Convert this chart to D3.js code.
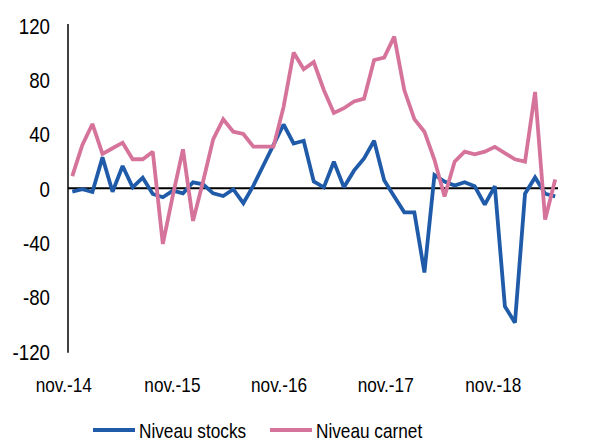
<!DOCTYPE html>
<html><head><meta charset="utf-8">
<script src="https://cdn.jsdelivr.net/npm/d3@7"></script>
<style>
body{margin:0;background:#fff;}
text{font-family:"Liberation Sans",Arial,sans-serif;fill:#000;}
</style></head>
<body><svg id="c" width="590" height="443"></svg>
<script>
// monthly index 0 = nov.-14 ... 48 = nov.-18
const stocks = [-2.5,-0.7,-2.7,22.8,-2.5,16.4,0.7,7.8,-4.2,-6.6,-1.7,-3.7,4.4,2.9,-3.7,-5.7,-0.7,-11,2,17,32,47,33,35,5,0.7,19.6,0.7,13,22,35,6,-6,-17.7,-17.7,-62,9.8,5,2,4.5,1.5,-12,1.5,-87,-99,-4,8,-4,-6];
const carnet = [9,32,47.4,25.3,29.5,33.6,21.4,21.4,27,-41,-5,28.7,-24,5,36,50.8,41.7,40,30.7,30.7,30.7,60,100,87.7,93,72.4,55.5,59,64,66,94.5,96.3,111.7,72.4,51,41.7,21,-6,19.6,27,25,27,30.5,26,21.4,19.6,71,-23,6.5];
const yTicks = [-120,-80,-40,0,40,80,120];
const xTickLabels = ["nov.-14","nov.-15","nov.-16","nov.-17","nov.-18"];
const xTickIdx = [-0.9,9.9,20.5,31.1,41.8];
const seriesNames = ["Niveau stocks","Niveau carnet"];
const colors = ["#1F5BA8","#D5739B"];

const SX = 0.82, SY = 0.85; // narrow font emulation
const svg = d3.select("#c");
const x = d3.scaleLinear().domain([0,48]).range([72.3,555.2]);
const y = d3.scaleLinear().domain([-120,120]).range([351.2,25.4]);

// y axis
const ya = svg.append("g").attr("transform","translate(68,0)")
  .call(d3.axisLeft(y).tickValues(yTicks).tickSize(0).tickFormat(d=>String(d)));
ya.select(".domain").remove();
ya.selectAll("text").attr("font-size",22).attr("x",-18/SY).attr("dy","0.36em")
  .attr("transform",`scale(${SY},1)`).style("font-family",'"Liberation Sans",Arial,sans-serif');
svg.append("line").attr("x1",68).attr("x2",68).attr("y1",y(120)-1.5).attr("y2",y(-120)+1.5)
  .attr("stroke","#000").attr("stroke-width",1.5);

// zero line
svg.append("line").attr("x1",68).attr("x2",558).attr("y1",y(0)).attr("y2",y(0))
  .attr("stroke","#000").attr("stroke-width",2);

// x labels
const xa = svg.append("g").attr("transform","translate(0,377)")
  .call(d3.axisBottom(x).tickValues(xTickIdx).tickSize(0).tickPadding(0).tickFormat((d,i)=>xTickLabels[i]));
xa.select(".domain").remove();
xa.selectAll("text").attr("font-size",21).attr("dy","0.71em")
  .attr("transform",`scale(${SX},1)`).style("font-family",'"Liberation Sans",Arial,sans-serif');

// lines
const line = d3.line().x((d,i)=>x(i)).y(d=>y(d));
[stocks,carnet].forEach((s,k)=>
  svg.append("path").datum(s).attr("d",line).attr("fill","none")
    .attr("stroke",colors[k]).attr("stroke-width",3.8).attr("stroke-linejoin","miter").attr("stroke-miterlimit",2));

// legend
const legX = [93,270];
seriesNames.forEach((n,k)=>{
  svg.append("line").attr("x1",legX[k]).attr("x2",legX[k]+42).attr("y1",430).attr("y2",430)
    .attr("stroke",colors[k]).attr("stroke-width",3.8);
  svg.append("text").attr("x",(legX[k]+46)/SX).attr("y",438).attr("font-size",21)
    .attr("transform",`scale(${SX},1)`).text(n);
});
</script></body></html>
